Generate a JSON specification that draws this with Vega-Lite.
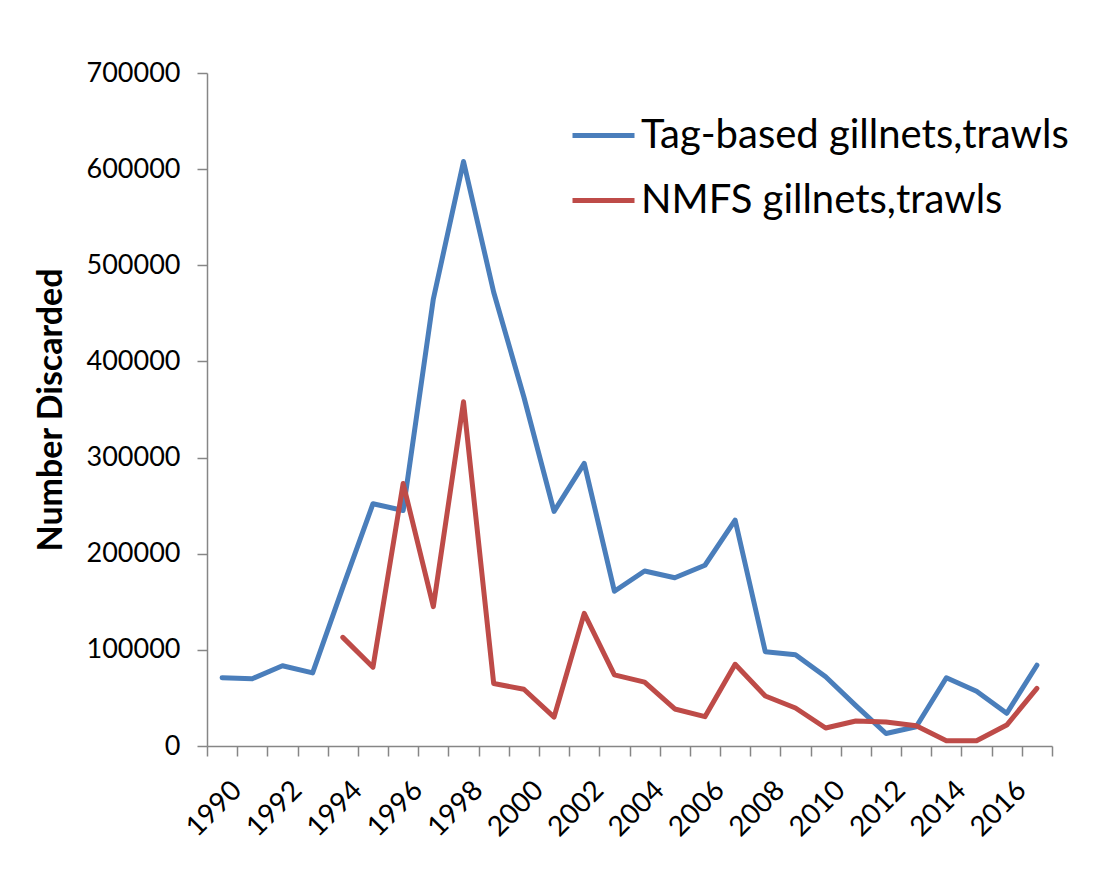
{
  "$schema": "https://vega.github.io/schema/vega-lite/v6.json",
  "width": 845,
  "height": 673,
  "autosize": {"type": "none"},
  "padding": {"left": 207, "top": 73, "right": 68, "bottom": 148},
  "background": "white",
  "config": {
    "view": {"stroke": null},
    "font": "Lato"
  },
  "data": {
    "values": [
      {"year": "1990", "series": "Tag-based gillnets,trawls", "value": 71000},
      {"year": "1991", "series": "Tag-based gillnets,trawls", "value": 70000},
      {"year": "1992", "series": "Tag-based gillnets,trawls", "value": 83500},
      {"year": "1993", "series": "Tag-based gillnets,trawls", "value": 76000},
      {"year": "1994", "series": "Tag-based gillnets,trawls", "value": 165000},
      {"year": "1995", "series": "Tag-based gillnets,trawls", "value": 252000},
      {"year": "1996", "series": "Tag-based gillnets,trawls", "value": 245000},
      {"year": "1997", "series": "Tag-based gillnets,trawls", "value": 465000},
      {"year": "1998", "series": "Tag-based gillnets,trawls", "value": 608000},
      {"year": "1999", "series": "Tag-based gillnets,trawls", "value": 472000},
      {"year": "2000", "series": "Tag-based gillnets,trawls", "value": 363000},
      {"year": "2001", "series": "Tag-based gillnets,trawls", "value": 244000},
      {"year": "2002", "series": "Tag-based gillnets,trawls", "value": 294000},
      {"year": "2003", "series": "Tag-based gillnets,trawls", "value": 161000},
      {"year": "2004", "series": "Tag-based gillnets,trawls", "value": 182000},
      {"year": "2005", "series": "Tag-based gillnets,trawls", "value": 175000},
      {"year": "2006", "series": "Tag-based gillnets,trawls", "value": 188000},
      {"year": "2007", "series": "Tag-based gillnets,trawls", "value": 235000},
      {"year": "2008", "series": "Tag-based gillnets,trawls", "value": 98000},
      {"year": "2009", "series": "Tag-based gillnets,trawls", "value": 95000},
      {"year": "2010", "series": "Tag-based gillnets,trawls", "value": 72000},
      {"year": "2011", "series": "Tag-based gillnets,trawls", "value": 42000},
      {"year": "2012", "series": "Tag-based gillnets,trawls", "value": 13000},
      {"year": "2013", "series": "Tag-based gillnets,trawls", "value": 20000},
      {"year": "2014", "series": "Tag-based gillnets,trawls", "value": 71000},
      {"year": "2015", "series": "Tag-based gillnets,trawls", "value": 57000},
      {"year": "2016", "series": "Tag-based gillnets,trawls", "value": 34000},
      {"year": "2017", "series": "Tag-based gillnets,trawls", "value": 84000},
      {"year": "1994", "series": "NMFS gillnets,trawls", "value": 113000},
      {"year": "1995", "series": "NMFS gillnets,trawls", "value": 82000},
      {"year": "1996", "series": "NMFS gillnets,trawls", "value": 273000},
      {"year": "1997", "series": "NMFS gillnets,trawls", "value": 145000},
      {"year": "1998", "series": "NMFS gillnets,trawls", "value": 358000},
      {"year": "1999", "series": "NMFS gillnets,trawls", "value": 65000},
      {"year": "2000", "series": "NMFS gillnets,trawls", "value": 59000},
      {"year": "2001", "series": "NMFS gillnets,trawls", "value": 30000},
      {"year": "2002", "series": "NMFS gillnets,trawls", "value": 138000},
      {"year": "2003", "series": "NMFS gillnets,trawls", "value": 74000},
      {"year": "2004", "series": "NMFS gillnets,trawls", "value": 66500},
      {"year": "2005", "series": "NMFS gillnets,trawls", "value": 38500},
      {"year": "2006", "series": "NMFS gillnets,trawls", "value": 30500},
      {"year": "2007", "series": "NMFS gillnets,trawls", "value": 85000},
      {"year": "2008", "series": "NMFS gillnets,trawls", "value": 52000},
      {"year": "2009", "series": "NMFS gillnets,trawls", "value": 39500},
      {"year": "2010", "series": "NMFS gillnets,trawls", "value": 18700},
      {"year": "2011", "series": "NMFS gillnets,trawls", "value": 26000},
      {"year": "2012", "series": "NMFS gillnets,trawls", "value": 25000},
      {"year": "2013", "series": "NMFS gillnets,trawls", "value": 21000},
      {"year": "2014", "series": "NMFS gillnets,trawls", "value": 5500},
      {"year": "2015", "series": "NMFS gillnets,trawls", "value": 5500},
      {"year": "2016", "series": "NMFS gillnets,trawls", "value": 21800},
      {"year": "2017", "series": "NMFS gillnets,trawls", "value": 60000}
    ]
  },
  "mark": {"type": "line", "strokeWidth": 5, "strokeCap": "round", "strokeJoin": "round"},
  "encoding": {
    "x": {
      "field": "year",
      "type": "ordinal",
      "bandPosition": 0.5,
      "scale": {"type": "band", "paddingInner": 0, "paddingOuter": 0},
      "axis": {
        "title": null,
        "tickBand": "extent",
        "labelExpr": "toNumber(datum.value) % 2 == 0 ? datum.value : ''",
        "labelAngle": -45,
        "labelFontSize": 28,
        "labelColor": "#000000",
        "labelPadding": 20,
        "labelOffset": 5,
        "domainColor": "#868686",
        "domainWidth": 1.5,
        "tickColor": "#868686",
        "tickWidth": 1.5,
        "tickSize": 10,
        "grid": false,
        "labelOverlap": false
      }
    },
    "y": {
      "field": "value",
      "type": "quantitative",
      "scale": {"domain": [0, 700000], "nice": false},
      "axis": {
        "title": "Number Discarded",
        "titleFontSize": 34,
        "titleFontWeight": "bold",
        "titleColor": "#000000",
        "titlePadding": 18,
        "values": [0, 100000, 200000, 300000, 400000, 500000, 600000, 700000],
        "format": "d",
        "labelFontSize": 27,
        "labelColor": "#000000",
        "labelPadding": 17,
        "domainColor": "#868686",
        "domainWidth": 1.5,
        "tickColor": "#868686",
        "tickWidth": 1.5,
        "tickSize": 10,
        "grid": false
      }
    },
    "color": {
      "field": "series",
      "type": "nominal",
      "scale": {
        "domain": ["Tag-based gillnets,trawls", "NMFS gillnets,trawls"],
        "range": ["#4A7EBB", "#BE4B48"]
      },
      "legend": {
        "title": null,
        "orient": "none",
        "legendX": 363,
        "legendY": 29,
        "symbolType": "stroke",
        "symbolSize": 3844,
        "symbolStrokeWidth": 5,
        "labelFontSize": 40,
        "labelColor": "#000000",
        "labelOffset": 4,
        "rowPadding": 11,
        "labelLimit": 600
      }
    }
  }
}
